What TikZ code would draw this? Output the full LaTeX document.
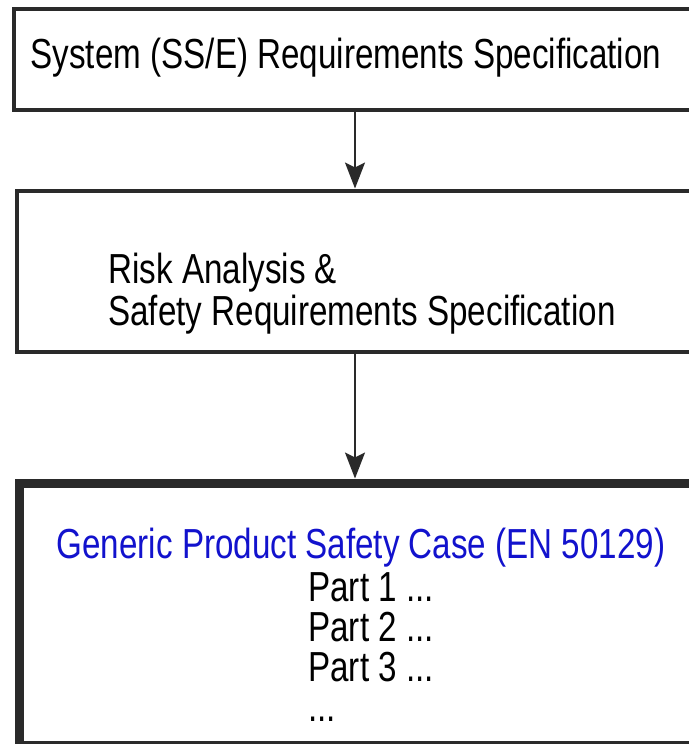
\documentclass[tikz,border=0pt]{standalone}
\usepackage{fontspec}
\setmainfont{Liberation Sans}[FakeStretch=0.79]
\usetikzlibrary{arrows.meta, positioning}
\tikzset{>={Stealth[length=13pt, width=10pt, inset=2.5pt]}}
\definecolor{framegray}{RGB}{42,42,42}
\definecolor{titleblue}{RGB}{18,18,205}

\begin{document}
\begin{tikzpicture}[x=0.5pt, y=-0.5pt,
    box/.style={draw=framegray, line width=2.2pt, fill=white, inner sep=0pt, anchor=north west},
    txt/.style={inner sep=0pt, font=\fontsize{21pt}{20pt}\selectfont}]
  \useasboundingbox (0,0) rectangle (689,744);
  \clip (0,0) rectangle (689,744);
  % frames (right sides run off the picture)
  \node[box, minimum width=360pt, minimum height=50.75pt] (sysbox) at (12,6.5) {};
  \node[box, minimum width=360pt, minimum height=80.75pt] (riskbox) at (14.5,188.5) {};
  \node[box, line width=4.5pt, minimum width=360pt, minimum height=131.25pt] (gpscbox) at (14.5,478.5) {};
  % texts (base of a multi-line node = its last line)
  \node[txt, anchor=base] (systxt) at (346,68) {System (SS/E) Requirements Specification};
  \node[txt, anchor=base west, align=left, font=\fontsize{21pt}{21pt}\selectfont] (risktxt) at (108,325) {Risk Analysis \&\\Safety Requirements Specification};
  \node[txt, anchor=base, text=titleblue] (gpsctxt) at (361,558) {Generic Product Safety Case (EN 50129)};
  \node[txt, anchor=base west, align=left] (parttxt) at (308,721) {Part 1 ...\\Part 2 ...\\Part 3 ...\\...};
  % arrows
  \coordinate (ax) at (355,0);
  \draw[->, draw=framegray, line width=1pt] (sysbox.south -| ax) -- (riskbox.north -| ax);
  \draw[->, draw=framegray, line width=1pt] (riskbox.south -| ax) -- (gpscbox.north -| ax);
\end{tikzpicture}
\end{document}
